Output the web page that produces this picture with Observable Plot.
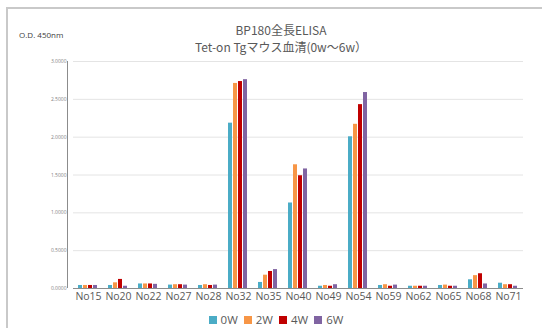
<!DOCTYPE html>
<html><head><meta charset="utf-8">
<script src="https://cdn.jsdelivr.net/npm/d3@7"></script>
<script src="https://cdn.jsdelivr.net/npm/@observablehq/plot@0.6"></script>
<style>
body{margin:0;background:#fff;font-family:"Noto Sans CJK JP","Noto Sans",sans-serif;}
#wrap{position:relative;width:542px;height:328px;overflow:hidden;background:#fff;}
#frame{position:absolute;left:6px;top:7px;width:600px;height:400px;border-left:2px solid #c9c9c9;border-top:2px solid #c9c9c9;}
#title{position:absolute;left:0;top:21px;width:542px;text-align:center;color:#595959;font-size:12px;line-height:17px;padding-left:20px;box-sizing:border-box;}
#title div{height:17px;}
#od{position:absolute;left:19px;top:29px;font-size:8px;color:#404040;font-family:"Open Sans",sans-serif;}
#chart{position:absolute;left:0;top:54px;}
#legend{position:absolute;left:0;top:313px;width:542px;text-align:center;font-size:11.5px;color:#595959;font-family:"Open Sans",sans-serif;line-height:14px;padding-left:10px;box-sizing:border-box;}
#legend span{margin:0 3px;}
#legend i{display:inline-block;width:8px;height:8px;margin-right:4px;vertical-align:0px;}
</style></head>
<body><div id="wrap"><div id="frame"></div>
<div id="od">O.D. 450nm</div>
<div id="title"><div>BP180全長ELISA</div><div>Tet-on Tgマウス血清(0w〜6w）</div></div>
<div id="chart"></div>
<div id="legend"></div>
</div>
<script>
const samples = ["No15","No20","No22","No27","No28","No32","No35","No40","No49","No54","No59","No62","No65","No68","No71"];
const weeks = ["0W","2W","4W","6W"];
const colors = ["#4bacc6","#f79646","#c00000","#8064a2"];
const w0 = [0.04,0.04,0.06,0.045,0.04,2.185,0.08,1.13,0.03,2.005,0.04,0.03,0.04,0.115,0.07];
const w2 = [0.04,0.075,0.06,0.05,0.05,2.71,0.176,1.635,0.04,2.17,0.05,0.03,0.045,0.17,0.05];
const w4 = [0.04,0.12,0.06,0.05,0.04,2.735,0.225,1.49,0.03,2.43,0.03,0.03,0.03,0.195,0.05];
const w6 = [0.04,0.03,0.055,0.045,0.045,2.76,0.25,1.58,0.05,2.59,0.045,0.03,0.03,0.06,0.03];
const yTicks = [0,0.5,1,1.5,2,2.5,3];

const series = [w0,w2,w4,w6];
const data = [];
samples.forEach((s,i)=>weeks.forEach((w,j)=>data.push({sample:s,week:w,value:series[j][i]})));

const chart = Plot.plot({
  width:542, height:250,
  marginLeft:67, marginRight:13, marginTop:7, marginBottom:16,
  style:{fontFamily:"Open Sans, sans-serif",background:"transparent"},
  fx:{domain:samples,paddingInner:0,paddingOuter:0,label:null,axis:"bottom",tickSize:0,tickPadding:4},
  x:{domain:weeks,axis:null,paddingInner:0.12,paddingOuter:0.78},
  y:{domain:[0,3],ticks:yTicks,label:null,tickFormat:d=>d.toFixed(4),tickSize:0,tickPadding:7},
  color:{domain:weeks,range:colors},
  marks:[
    Plot.gridY(yTicks,{stroke:"#e4e4e4",strokeOpacity:1}),
    Plot.barY(data,{fx:"sample",x:"week",y:"value",fill:"week"}),
    Plot.ruleY([0],{stroke:"#8c8c8c",strokeWidth:1})
  ]
});
document.getElementById("chart").appendChild(chart);
const svg = chart;
svg.querySelectorAll('g[aria-label="y-axis tick label"] text').forEach(t=>{t.setAttribute("font-size","5");t.setAttribute("fill","#7f7f7f");});
svg.querySelectorAll('g[aria-label="fx-axis tick label"] text').forEach(t=>{t.setAttribute("font-size","10.5");t.setAttribute("fill","#595959");});
const ns="http://www.w3.org/2000/svg";
const ln=document.createElementNS(ns,"line");
ln.setAttribute("x1",67.5);ln.setAttribute("x2",67.5);ln.setAttribute("y1",7);ln.setAttribute("y2",234);
ln.setAttribute("stroke","#8c8c8c");
svg.appendChild(ln);

const leg=document.getElementById("legend");
weeks.forEach((w,j)=>{const s=document.createElement("span");s.innerHTML=`<i style="background:${colors[j]}"></i>${w}`;leg.appendChild(s);});
</script>
</body></html>
